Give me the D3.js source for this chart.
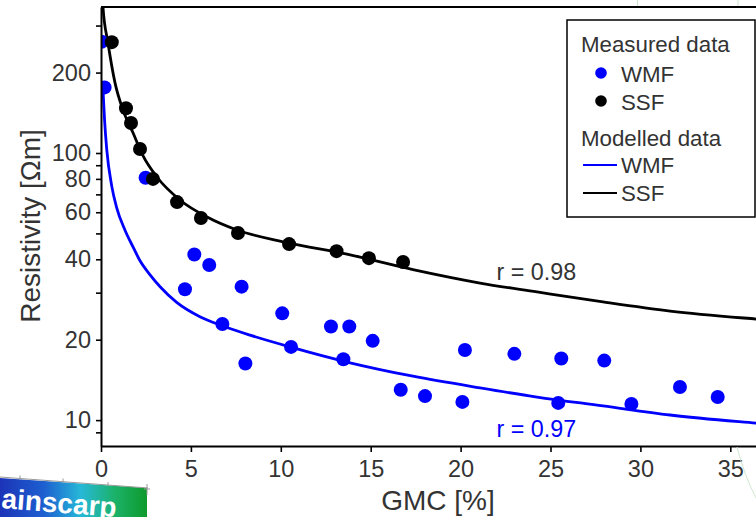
<!DOCTYPE html>
<html><head><meta charset="utf-8">
<script src="https://cdn.jsdelivr.net/npm/d3@7"></script>
<style>
html,body{margin:0;padding:0;background:#fff;overflow:hidden;}
svg{display:block;font-family:"Liberation Sans",Arial,sans-serif;}
</style></head>
<body>
<svg id="chart" width="756" height="517"></svg>
<script>
// ---- data ----
const wmfGMC = [0.03, 0.2, 2.48, 4.67, 5.19, 6.02, 6.75, 7.82, 8.03, 10.08, 10.57, 12.79, 13.48, 13.81, 15.11, 16.67, 18.02, 20.1, 20.24, 22.99, 25.43, 25.6, 27.99, 29.5, 32.2, 34.3];
const wmfRes = [261, 176, 80.8, 30.9, 41.7, 38.1, 22.9, 31.6, 16.3, 25.1, 18.8, 22.4, 16.9, 22.4, 19.8, 13.0, 12.3, 11.7, 18.3, 17.7, 11.6, 17.0, 16.7, 11.5, 13.3, 12.2];
const ssfGMC = [0.6, 1.39, 1.67, 2.17, 2.89, 4.23, 5.56, 7.62, 10.46, 13.1, 14.9, 16.8];
const ssfRes = [260, 147, 129.5, 103.5, 80, 65.5, 57.1, 50.2, 45.6, 42.9, 40.4, 39.1];
// modelled curves
const modelWmfGMC = [0.1, 0.2, 0.32, 0.6, 0.87, 1.33, 1.78, 2.17, 2.73, 3.3, 4.21, 5.5, 6.71, 8.29, 10.51, 13.68, 17.35, 21.08, 24.25, 27.92, 31.65, 36.43, 40];
const modelWmfRes = [178, 132, 103, 75, 62.5, 51.5, 44.5, 39.5, 35, 31.5, 27.6, 24.4, 22.6, 20.8, 18.8, 16.5, 14.6, 13.2, 12.2, 11.3, 10.45, 9.74, 9.3];
const modelSsfGMC = [0.08, 0.11, 0.39, 0.78, 1.22, 1.78, 2.34, 3.11, 4.39, 5.9, 7.56, 10.34, 13.68, 17.35, 21.08, 24.25, 27.92, 31.65, 36.43, 40];
const modelSsfRes = [420, 352, 258, 183, 145, 119, 97.5, 81.3, 66.7, 57.6, 51.5, 46.2, 41.8, 36.6, 32.6, 30.2, 27.7, 25.6, 23.9, 22.9];
const xTicks = [0, 5, 10, 15, 20, 25, 30, 35];
const yTicks = [9, 10, 20, 30, 40, 50, 60, 70, 80, 90, 100, 200, 300];
const yLabelled = [10, 20, 40, 60, 80, 100, 200];
const rLabels = [{text: "r = 0.98", gmc: 22, res: 33.5, color: "#333"}, {text: "r = 0.97", gmc: 22, res: 8.64, color: "#0000ff"}];

const BLUE = "#0000ff", BLACK = "#000";
const svg = d3.select("#chart");

const x = d3.scaleLinear().domain([0, 40]).range([101, 101 + 40 * 17.98]);
const y = d3.scaleLog().domain([8, 352]).range([446, 7]);

// clip for plot area
svg.append("defs").append("clipPath").attr("id", "plotclip")
  .append("rect").attr("x", 101).attr("y", 7).attr("width", 760).attr("height", 439);

const plot = svg.append("g").attr("clip-path", "url(#plotclip)");

// modelled curves
const line = d3.line().x(d => x(d[0])).y(d => y(d[1])).curve(d3.curveMonotoneX);
plot.append("path").datum(d3.zip(modelSsfGMC, modelSsfRes))
  .attr("d", line).attr("fill", "none").attr("stroke", BLACK).attr("stroke-width", 2.8);
plot.append("path").datum(d3.zip(modelWmfGMC, modelWmfRes))
  .attr("d", line).attr("fill", "none").attr("stroke", BLUE).attr("stroke-width", 2.8);

// measured points
plot.append("g").selectAll("circle").data(d3.zip(wmfGMC, wmfRes)).join("circle")
  .attr("cx", d => x(d[0])).attr("cy", d => y(d[1])).attr("r", 7).attr("fill", BLUE);
plot.append("g").selectAll("circle").data(d3.zip(ssfGMC, ssfRes)).join("circle")
  .attr("cx", d => x(d[0])).attr("cy", d => y(d[1])).attr("r", 7).attr("fill", BLACK);

// top border
svg.append("line").attr("x1", 101).attr("x2", x(40)).attr("y1", 7).attr("y2", 7)
  .attr("stroke", "#000").attr("stroke-width", 2);

// axes
const xAxis = svg.append("g").attr("transform", "translate(0,446)")
  .call(d3.axisBottom(x).tickValues(xTicks).tickSize(6).tickSizeOuter(0).tickPadding(8));
const yAxis = svg.append("g").attr("transform", "translate(101,0)")
  .call(d3.axisLeft(y).tickValues(yTicks).tickSize(5).tickSizeOuter(0).tickPadding(5)
    .tickFormat(d => yLabelled.includes(d) ? String(d) : ""));
[xAxis, yAxis].forEach(a => {
  a.select(".domain").attr("stroke", "#000").attr("stroke-width", 2);
  a.selectAll(".tick line").attr("stroke", "#000").attr("stroke-width", 1.6);
  a.selectAll(".tick text").attr("fill", "#333").style("font-size", "23.5px")
    .style("font-family", "'Liberation Sans', Arial, sans-serif");
});

// axis titles
svg.append("text").attr("x", 438).attr("y", 510).attr("text-anchor", "middle")
  .attr("fill", "#333").style("font-size", "28px").text("GMC [%]");
svg.append("text").attr("transform", "translate(40,226) rotate(-90)").attr("text-anchor", "middle")
  .attr("fill", "#333").style("font-size", "28px").text("Resistivity [Ωm]");

// r labels
svg.append("g").selectAll("text").data(rLabels).join("text")
  .attr("x", d => x(d.gmc)).attr("y", d => y(d.res)).attr("fill", d => d.color)
  .style("font-size", "23.3px").text(d => d.text);

// legend
const lg = svg.append("g");
lg.append("rect").attr("x", 567).attr("y", 20).attr("width", 188).attr("height", 197)
  .attr("fill", "#fff").attr("stroke", "#000").attr("stroke-width", 1.5);
const lgFont = "22.3px";
lg.append("text").attr("x", 581).attr("y", 52).attr("fill", "#333").style("font-size", lgFont).text("Measured data");
lg.append("circle").attr("cx", 601).attr("cy", 73).attr("r", 5.8).attr("fill", BLUE);
lg.append("text").attr("x", 621).attr("y", 81.7).attr("fill", "#333").style("font-size", lgFont).text("WMF");
lg.append("circle").attr("cx", 601).attr("cy", 101).attr("r", 5.8).attr("fill", BLACK);
lg.append("text").attr("x", 621).attr("y", 110).attr("fill", "#333").style("font-size", lgFont).text("SSF");
lg.append("text").attr("x", 581).attr("y", 146).attr("fill", "#333").style("font-size", lgFont).text("Modelled data");
lg.append("line").attr("x1", 583).attr("x2", 617).attr("y1", 165).attr("y2", 165).attr("stroke", BLUE).attr("stroke-width", 2);
lg.append("text").attr("x", 621).attr("y", 173).attr("fill", "#333").style("font-size", lgFont).text("WMF");
lg.append("line").attr("x1", 583).attr("x2", 617).attr("y1", 193).attr("y2", 193).attr("stroke", BLACK).attr("stroke-width", 2);
lg.append("text").attr("x", 621).attr("y", 201).attr("fill", "#333").style("font-size", lgFont).text("SSF");

// faint green fragments of a neighbouring figure
const deco = svg.append("g").attr("fill", "none").attr("stroke", "#cfe6cf").attr("stroke-width", 1);
deco.append("line").attr("x1", 637.5).attr("x2", 637.5).attr("y1", 0).attr("y2", 6);
deco.append("line").attr("x1", 738).attr("x2", 738).attr("y1", 0).attr("y2", 6);
deco.append("path").attr("d", "M737,447 Q744,475 757,500");

// logo fragment bottom-left
const grad = svg.select("defs").append("linearGradient").attr("id", "logograd")
  .attr("x1", "0%").attr("x2", "100%").attr("y1", "0%").attr("y2", "0%");
[["0%", "#1c34b8"], ["30%", "#1d5fd0"], ["55%", "#27b8d8"], ["78%", "#1bb26a"], ["100%", "#0e9a2c"]]
  .forEach(s => grad.append("stop").attr("offset", s[0]).attr("stop-color", s[1]));
const logo = svg.append("g");
logo.append("path").attr("d", "M0,478 L147,488 L147,517 L0,517 Z").attr("fill", "url(#logograd)");
logo.append("path").attr("d", "M0,477 L148,488").attr("stroke", "#999").attr("stroke-width", 1).attr("fill", "none");
[[20, 478.5], [63, 481.5], [108, 485]].forEach(p =>
  logo.append("line").attr("x1", p[0]).attr("x2", p[0]).attr("y1", p[1] - 3).attr("y2", p[1] + 1).attr("stroke", "#999"));
logo.append("line").attr("x1", 147).attr("x2", 147).attr("y1", 484).attr("y2", 495).attr("stroke", "#999");
logo.append("line").attr("x1", 144).attr("x2", 150).attr("y1", 489).attr("y2", 489).attr("stroke", "#999");
logo.append("text").attr("transform", "translate(1,508) rotate(4.5)").attr("fill", "#fff")
  .style("font-size", "28px").style("font-weight", "bold").text("ainscarp");
</script>
</body></html>
